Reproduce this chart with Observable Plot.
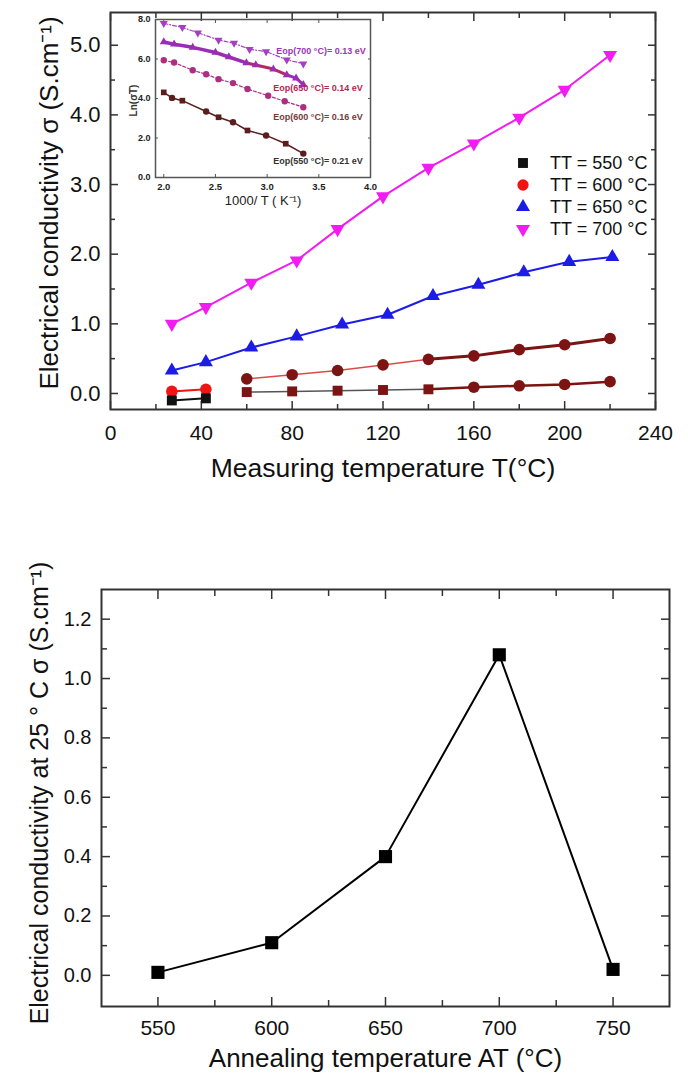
<!DOCTYPE html>
<html><head><meta charset="utf-8">
<script src="https://cdn.jsdelivr.net/npm/d3@7"></script>
<script src="https://cdn.jsdelivr.net/npm/@observablehq/plot@0.6"></script>
<style>
html,body{margin:0;padding:0;background:#fff;}
#root{position:relative;width:688px;height:1078px;overflow:hidden;font-family:"Liberation Sans",Arial,sans-serif;background:#fff;}
#root > svg{position:absolute;left:0;}
.lg{position:absolute;font-size:18px;color:#111;height:22px;line-height:22px;white-space:nowrap;}
.lg svg{position:absolute;left:0;top:3px;}
.lg span{position:absolute;left:35px;top:0;}
</style></head><body><div id="root"></div>
<script>
// ---------- Top chart: conductivity vs measuring temperature ----------
const seriesTT = ["550", "600", "650", "700"];
const measT550 = [27, 42, 60, 80, 100, 120, 140, 160, 180, 200, 220];
const sigma550 = [-0.10, -0.07, 0.02, 0.03, 0.04, 0.05, 0.06, 0.09, 0.11, 0.13, 0.17];
const measT600 = [27, 42, 60, 80, 100, 120, 140, 160, 180, 200, 220];
const sigma600 = [0.03, 0.06, 0.21, 0.27, 0.33, 0.41, 0.49, 0.54, 0.63, 0.70, 0.79];
const measT650 = [27, 42, 62, 82, 102, 122, 142, 162, 182, 202, 221];
const sigma650 = [0.33, 0.45, 0.66, 0.82, 0.99, 1.13, 1.40, 1.56, 1.74, 1.89, 1.96];
const measT700 = [27, 42, 62, 82, 100, 120, 140, 160, 180, 200, 220];
const sigma700 = [1.00, 1.24, 1.59, 1.91, 2.36, 2.83, 3.24, 3.59, 3.96, 4.36, 4.86];
const topYTicks = [0, 1, 2, 3, 4, 5];
const topYMinor = [0.5, 1.5, 2.5, 3.5, 4.5];
const topXTicks = [0, 40, 80, 120, 160, 200, 240];
const topXMinor = [20, 60, 100, 140, 180, 220];

// ---------- Inset: Ln(sigma T) vs 1000/T ----------
const invT550 = [2.00, 2.08, 2.18, 2.41, 2.53, 2.67, 2.81, 2.99, 3.18, 3.35];
const lnST550 = [4.31, 4.03, 3.89, 3.34, 3.05, 2.80, 2.38, 2.13, 1.71, 1.21];
const invT600 = [2.00, 2.10, 2.28, 2.41, 2.53, 2.67, 2.81, 3.01, 3.17, 3.35];
const lnST600 = [5.94, 5.82, 5.43, 5.23, 4.98, 4.78, 4.48, 4.14, 3.86, 3.56];
const invT650 = [2.00, 2.10, 2.28, 2.50, 2.63, 2.80, 2.89, 3.06, 3.19, 3.28, 3.35];
const lnST650 = [6.86, 6.75, 6.59, 6.33, 6.10, 5.80, 5.70, 5.49, 5.20, 5.03, 4.70];
const invT700 = [2.00, 2.18, 2.33, 2.53, 2.68, 2.83, 2.99, 3.19, 3.35];
const lnST700 = [7.80, 7.60, 7.33, 6.96, 6.80, 6.49, 6.38, 5.96, 5.76];
const activationEnergy = {"550": "0.21", "600": "0.16", "650": "0.14", "700": "0.13"};
const insetXTicks = [2.0, 2.5, 3.0, 3.5, 4.0];
const insetYTicks = [0, 2, 4, 6, 8];

// ---------- Bottom chart: conductivity at 25 °C vs annealing temperature ----------
const annealT = [550, 600, 650, 700, 750];
const sigma25 = [0.01, 0.11, 0.40, 1.08, 0.02];
const botYTicks = [0, 0.2, 0.4, 0.6, 0.8, 1.0, 1.2];
const botYMinor = [0.1, 0.3, 0.5, 0.7, 0.9, 1.1];
const botXTicks = [550, 600, 650, 700, 750];
const botXMinor = [575, 625, 675, 725];

// ---------- styling ----------
const FONT = "Liberation Sans, Arial, Helvetica, sans-serif";
const colors = {"550": "#111111", "600": "#f01414", "650": "#1c1ce6", "700": "#f01cf0"};
const maroon = "#7c1414";
const insetColors = {"550": "#5a1e1e", "600": "#ad2f80", "650": "#9a2db5", "700": "#a43fc2"};
const frameColor = "#333";

const triangleDown = {
  draw(ctx, size) {
    const y = -Math.sqrt(size / (Math.sqrt(3) * 3));
    ctx.moveTo(0, -2 * y);
    ctx.lineTo(-Math.sqrt(3) * y, y);
    ctx.lineTo(Math.sqrt(3) * y, y);
    ctx.closePath();
  }
};

const zipRows = (tt, xs, ys) => xs.map((x, i) => ({tt, x, y: ys[i], i}));
const top550 = zipRows("550", measT550, sigma550);
const top600 = zipRows("600", measT600, sigma600);
const top650 = zipRows("650", measT650, sigma650);
const top700 = zipRows("700", measT700, sigma700);

function frameTicks(xMajor, xMinor, yMajor, yMinor, big, small, stroke, sw) {
  const o = {tickSize: -big, tickFormat: () => "", label: null, stroke, strokeWidth: sw};
  const m = {tickSize: -small, tickFormat: () => "", label: null, stroke, strokeWidth: sw};
  return [
    Plot.axisX(xMajor, {anchor: "top", ...o}),
    Plot.axisX(xMinor, {anchor: "top", ...m}),
    Plot.axisX(xMinor, {anchor: "bottom", ...m}),
    Plot.axisY(yMajor, {anchor: "right", ...o}),
    Plot.axisY(yMinor, {anchor: "right", ...m}),
    Plot.axisY(yMinor, {anchor: "left", ...m})
  ];
}
const title = (s, o) => Plot.text([s], {text: d => d, textAnchor: "middle", lineAnchor: "middle", fill: "#111", ...o});

const root = document.getElementById("root");

// ---- main top plot ----
const early = d => d.i < 2;
const mid = d => d.i >= 2 && d.i <= 6;
const late = d => d.i >= 6;

const topPlot = Plot.plot({
  width: 688, height: 500,
  marginLeft: 110, marginRight: 33, marginTop: 12, marginBottom: 91,
  x: {domain: [0, 240]},
  y: {domain: [-0.23, 5.47]},
  style: {fontFamily: FONT, color: "#111", background: "transparent"},
  marks: [
    ...frameTicks(topXTicks, topXMinor, topYTicks, topYMinor, 8, 5, frameColor, 1.5),
    Plot.axisY(topYTicks, {anchor: "left", tickSize: -8, tickPadding: 18, tickFormat: d3.format(".1f"), fontSize: 22, label: null, stroke: frameColor, strokeWidth: 1.5}),
    Plot.axisX(topXTicks, {anchor: "bottom", tickSize: -8, tickPadding: 24, tickFormat: d => String(d), fontSize: 21, label: null, stroke: frameColor, strokeWidth: 1.5}),
    // lines
    Plot.line(top700, {x: "x", y: "y", stroke: colors["700"], strokeWidth: 2}),
    Plot.line(top650, {x: "x", y: "y", stroke: colors["650"], strokeWidth: 2}),
    Plot.line(top600.filter(early), {x: "x", y: "y", stroke: colors["600"], strokeWidth: 2}),
    Plot.line(top600.filter(mid), {x: "x", y: "y", stroke: "#e04848", strokeWidth: 1.5}),
    Plot.line(top600.filter(late), {x: "x", y: "y", stroke: maroon, strokeWidth: 3}),
    Plot.line(top550.filter(early), {x: "x", y: "y", stroke: colors["550"], strokeWidth: 2}),
    Plot.line(top550.filter(mid), {x: "x", y: "y", stroke: "#555", strokeWidth: 1.5}),
    Plot.line(top550.filter(late), {x: "x", y: "y", stroke: maroon, strokeWidth: 2.5}),
    // markers
    Plot.dot(top700, {x: "x", y: "y", symbol: triangleDown, r: 5.2, fill: colors["700"]}),
    Plot.dot(top650, {x: "x", y: "y", symbol: "triangle", r: 5.2, fill: colors["650"]}),
    Plot.dot(top600, {x: "x", y: "y", symbol: "circle", r: 5.8, fill: d => early(d) ? colors["600"] : maroon}),
    Plot.dot(top550.filter(d => d.i <= 6), {x: "x", y: "y", symbol: "square", r: 5.6, fill: d => early(d) ? colors["550"] : maroon}),
    Plot.dot(top550.filter(d => d.i > 6), {x: "x", y: "y", symbol: "circle", r: 5.8, fill: maroon}),
    Plot.frame({stroke: frameColor, strokeWidth: 2}),
    // axis titles
    title("Electrical conductivity σ (S.cm⁻¹)", {frameAnchor: "left", rotate: -90, dx: -61, dy: -8, fontSize: 26}),
    title("Measuring temperature T(°C)", {frameAnchor: "bottom", dy: 59, fontSize: 26.5})
  ]
});
topPlot.style.top = "0px";
root.appendChild(topPlot);

// ---- legend ----
const legendSym = {"550": d3.symbolSquare, "600": d3.symbolCircle, "650": d3.symbolTriangle, "700": triangleDown};
seriesTT.forEach((tt, k) => {
  const row = document.createElement("div");
  row.className = "lg";
  row.style.left = "515px";
  row.style.top = (152 + k * 22) + "px";
  const area = tt === "550" ? 98 : (tt === "600" ? 100 : 85);
  row.innerHTML = `<svg width="16" height="16" viewBox="-8 -8 16 16"><path d="${d3.symbol(legendSym[tt], area)()}" fill="${colors[tt]}"/></svg><span>TT = ${tt} °C</span>`;
  root.appendChild(row);
});

// ---- inset ----
const in550 = zipRows("550", invT550, lnST550);
const in600 = zipRows("600", invT600, lnST600);
const in650 = zipRows("650", invT650, lnST650);
const in700 = zipRows("700", invT700, lnST700);
const lastOf = arr => [arr[arr.length - 1]];
const eopText = d => `Eop(${d.tt} °C)= ${activationEnergy[d.tt]} eV`;

const insetPlot = Plot.plot({
  width: 380, height: 210,
  marginLeft: 155, marginRight: 10, marginTop: 19, marginBottom: 33,
  x: {domain: [1.92, 4.0]},
  y: {domain: [0, 8]},
  style: {fontFamily: FONT, color: "#222", background: "transparent"},
  marks: [
    Plot.axisX(insetXTicks, {anchor: "top", tickSize: -3, tickFormat: () => "", label: null, stroke: "#555"}),
    Plot.axisY(insetYTicks, {anchor: "right", tickSize: -3, tickFormat: () => "", label: null, stroke: "#555"}),
    Plot.axisX(insetXTicks, {anchor: "bottom", tickSize: -3, tickPadding: 9, tickFormat: d3.format(".1f"), fontSize: 9.5, fontWeight: "bold", label: null, stroke: "#555"}),
    Plot.axisY(insetYTicks, {anchor: "left", tickSize: -3, tickPadding: 8, tickFormat: d3.format(".1f"), fontSize: 9, fontWeight: "bold", label: null, stroke: "#555"}),
    Plot.line(in700, {x: "x", y: "y", stroke: insetColors["700"], strokeWidth: 1.2, strokeDasharray: "4,2,1,2"}),
    Plot.line(in650.filter(d => d.x <= 2.8), {x: "x", y: "y", stroke: insetColors["650"], strokeWidth: 3.5}),
    Plot.line(in650.filter(d => d.x >= 2.8 && d.x <= 3.2), {x: "x", y: "y", stroke: "#b42a60", strokeWidth: 3}),
    Plot.line(in650.filter(d => d.x >= 3.19), {x: "x", y: "y", stroke: insetColors["650"], strokeWidth: 3}),
    Plot.line(in600, {x: "x", y: "y", stroke: insetColors["600"], strokeWidth: 1.2, strokeDasharray: "3,2"}),
    Plot.line(in550, {x: "x", y: "y", stroke: insetColors["550"], strokeWidth: 1.5}),
    Plot.dot(in700, {x: "x", y: "y", symbol: triangleDown, r: 3, fill: insetColors["700"]}),
    Plot.dot(in650, {x: "x", y: "y", symbol: "triangle", r: 3, fill: insetColors["650"]}),
    Plot.dot(in600, {x: "x", y: "y", symbol: "circle", r: 3.2, fill: insetColors["600"]}),
    Plot.dot(in550, {x: "x", y: "y", symbol: d => d.i % 2 ? "circle" : "square", r: 3.2, fill: insetColors["550"]}),
    Plot.text(lastOf(in700), {x: "x", y: "y", text: eopText, dx: -27, dy: -13, textAnchor: "start", fontSize: 9, fontWeight: "bold", fill: "#9b35b8"}),
    Plot.text(lastOf(in650), {x: "x", y: "y", text: eopText, dx: -30, dy: 3, textAnchor: "start", fontSize: 9, fontWeight: "bold", fill: "#b3284f"}),
    Plot.text(lastOf(in600), {x: "x", y: "y", text: eopText, dx: -30, dy: 10, textAnchor: "start", fontSize: 9, fontWeight: "bold", fill: "#7a3a3a"}),
    Plot.text(lastOf(in550), {x: "x", y: "y", text: eopText, dx: -30, dy: 8, textAnchor: "start", fontSize: 9, fontWeight: "bold", fill: "#333"}),
    Plot.frame({stroke: "#555", strokeWidth: 1.5}),
    title("Ln(σT)", {frameAnchor: "left", rotate: -90, dx: -22, dy: 2, fontSize: 10, fontWeight: "bold", fill: "#333"}),
    title("1000/ T ( K⁻¹)", {frameAnchor: "bottom", dy: 23, fontSize: 13, fill: "#222"})
  ]
});
insetPlot.style.top = "0px";
root.appendChild(insetPlot);

// ---- bottom plot ----
const anneal = annealT.map((x, i) => ({x, y: sigma25[i]}));
const botPlot = Plot.plot({
  width: 688, height: 538,
  marginLeft: 101, marginRight: 19, marginTop: 49, marginBottom: 72,
  x: {domain: [525.2, 774.8]},
  y: {domain: [-0.105, 1.30]},
  style: {fontFamily: FONT, color: "#111", background: "transparent"},
  marks: [
    ...frameTicks(botXTicks, botXMinor, botYTicks, botYMinor, 9, 6, frameColor, 1.5),
    Plot.axisY(botYTicks, {anchor: "left", tickSize: -9, tickPadding: 19, tickFormat: d3.format(".1f"), fontSize: 20, label: null, stroke: frameColor, strokeWidth: 1.5}),
    Plot.axisX(botXTicks, {anchor: "bottom", tickSize: -9, tickPadding: 23, tickFormat: d => String(d), fontSize: 21, label: null, stroke: frameColor, strokeWidth: 1.5}),
    Plot.line(anneal, {x: "x", y: "y", stroke: "#000", strokeWidth: 2}),
    Plot.dot(anneal, {x: "x", y: "y", symbol: "square", r: 7.4, fill: "#000"}),
    Plot.frame({stroke: frameColor, strokeWidth: 2}),
    title("Electrical conductivity at 25 ° C σ (S.cm⁻¹)", {frameAnchor: "left", rotate: -90, dx: -62, dy: -5, fontSize: 25}),
    title("Annealing temperature AT (°C)", {frameAnchor: "bottom", dy: 52, fontSize: 26})
  ]
});
botPlot.style.top = "540px";
root.appendChild(botPlot);
</script>
</body></html>
